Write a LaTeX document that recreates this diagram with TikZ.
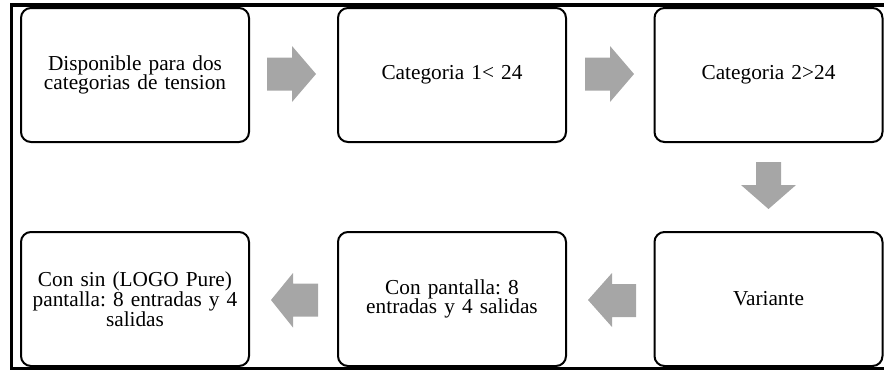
\documentclass[tikz,border=0pt]{standalone}
\usepackage{fontspec}
\setmainfont{Liberation Serif}
\frenchspacing
\definecolor{arrowgray}{RGB}{166,166,166}
\begin{document}
\begin{tikzpicture}[x=1pt,y=-1pt,
  stepbox/.style={draw=black, line width=2pt, rounded corners=10pt, fill=white,
    minimum width=228pt, minimum height=134pt, inner sep=0pt,
    text width=210pt, align=center, font=\fontsize{21.3}{19.8}\selectfont},
  blockarrow/.style={fill=arrowgray, draw=none},
  frameline/.style={line width=3.3pt, draw=black}]
\useasboundingbox (0,0) rectangle (884,370);
% frame
\draw[frameline] (884,5) -- (11.7,5) -- (11.7,368.3) -- (884,368.3);
% boxes
\node[stepbox] (b1) at (135,75) {Disponible para dos\\categorias de tension};
\node[stepbox] (b2) at (452,75) {Categoria 1< 24};
\node[stepbox] (b3) at (768.5,75) {Categoria 2>24};
\node[stepbox] (b4) at (768.5,299) {Variante};
\node[stepbox] (b5) at (452,299) {Con pantalla: 8\\entradas y 4 salidas};
\node[stepbox] (b6) at (135,299) {Con sin (LOGO Pure)\\pantalla: 8 entradas y 4\\salidas};
% block arrows
\fill[blockarrow] (267,57.5) -- (292,57.5) -- (292,46) -- (316,74) -- (292,102) -- (292,90.5) -- (267,90.5) -- cycle;
\fill[blockarrow] (585,57.5) -- (610,57.5) -- (610,46) -- (634,74) -- (610,102) -- (610,90.5) -- (585,90.5) -- cycle;
\fill[blockarrow] (756,162) -- (781,162) -- (781,185) -- (796,185) -- (768.5,209) -- (741,185) -- (756,185) -- cycle;
\fill[blockarrow] (636,284) -- (612,284) -- (612,273) -- (588,300) -- (612,327) -- (612,317) -- (636,317) -- cycle;
\fill[blockarrow] (318,283.5) -- (293,283.5) -- (293,273) -- (271,300) -- (293,327.5) -- (293,316.5) -- (318,316.5) -- cycle;
\end{tikzpicture}
\end{document}
